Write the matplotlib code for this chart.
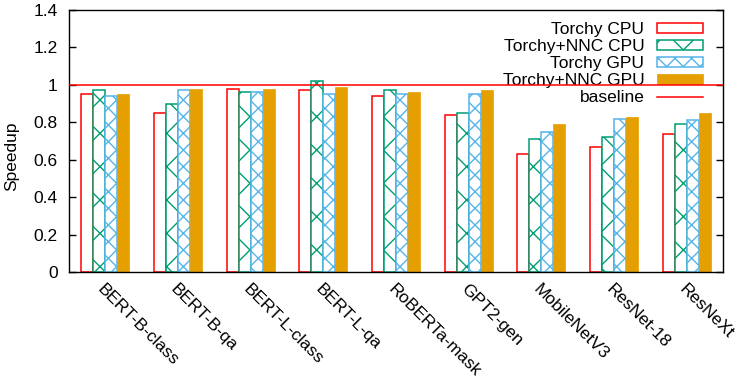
import matplotlib
matplotlib.use('Agg')
import matplotlib.pyplot as plt
import numpy as np

plt.rcParams['font.family'] = ['Liberation Sans', 'DejaVu Sans']
plt.rcParams['hatch.linewidth'] = 1.0

models = ['BERT-B-class', 'BERT-B-qa', 'BERT-L-class', 'BERT-L-qa', 'RoBERTa-mask',
          'GPT2-gen', 'MobileNetV3', 'ResNet-18', 'ResNeXt']
torchy_cpu = [0.95, 0.85, 0.98, 0.97, 0.94, 0.84, 0.63, 0.67, 0.74]
nnc_cpu = [0.97, 0.90, 0.96, 1.02, 0.97, 0.85, 0.71, 0.72, 0.79]
torchy_gpu = [0.94, 0.97, 0.96, 0.95, 0.95, 0.95, 0.75, 0.82, 0.81]
nnc_gpu = [0.95, 0.98, 0.98, 0.99, 0.96, 0.97, 0.79, 0.83, 0.85]
baseline = 1.0

red = '#ff0000'
green = '#009e73'
blue = '#56b4e9'
orange = '#e69f00'
fs = 12.5

fig = plt.figure(figsize=(7.4, 3.79), dpi=100)
ax = fig.add_axes([0.0932, 0.2823, 0.8838, 0.6913])

x = np.arange(len(models))
w = 0.165
b1 = ax.bar(x - 1.5 * w, torchy_cpu, w, facecolor='white', edgecolor=red, linewidth=1.1,
            label='Torchy CPU', zorder=2)
b2 = ax.bar(x - 0.5 * w, nnc_cpu, w, facecolor='white', edgecolor=green, linewidth=1.1,
            hatch='x', label='Torchy+NNC CPU', zorder=2)
b3 = ax.bar(x + 0.5 * w, torchy_gpu, w, facecolor='white', edgecolor=blue, linewidth=1.1,
            hatch='xx', label='Torchy GPU', zorder=2)
b4 = ax.bar(x + 1.5 * w, nnc_gpu, w, facecolor=orange, edgecolor=orange, linewidth=0.5,
            label='Torchy+NNC GPU', zorder=2)
bl = ax.axhline(baseline, color=red, linewidth=1.1, label='baseline', zorder=5)

ax.set_xlim(-0.5, len(models) - 0.5)
ax.set_ylim(0, 1.4)
yt = np.arange(0, 1.41, 0.2)
ax.set_yticks(yt)
ax.set_yticklabels(['0', '0.2', '0.4', '0.6', '0.8', '1', '1.2', '1.4'], fontsize=fs)
ax.tick_params(axis='y', direction='in', length=5, width=1, right=True, pad=8)
ax.set_xticks(x)
ax.set_xticklabels(models, rotation=-45, ha='left', va='top', rotation_mode='anchor', fontsize=fs)
ax.tick_params(axis='x', length=0, pad=7)

for s in ax.spines.values():
    s.set_linewidth(1.0)

ax.set_ylabel('Speedup', fontsize=fs)
ax.yaxis.set_label_coords(-0.076, 0.44)

leg = ax.legend([b1, b2, b3, b4, bl],
                ['Torchy CPU', 'Torchy+NNC CPU', 'Torchy GPU', 'Torchy+NNC GPU', 'baseline'],
                loc='upper right', bbox_to_anchor=(0.986, 0.995), frameon=False,
                markerfirst=False, fontsize=fs, handlelength=2.7, handleheight=0.5,
                labelspacing=0.12, handletextpad=0.7, borderaxespad=0.2)
leg.set_zorder(1)

fig.savefig('out.png', dpi=100)
